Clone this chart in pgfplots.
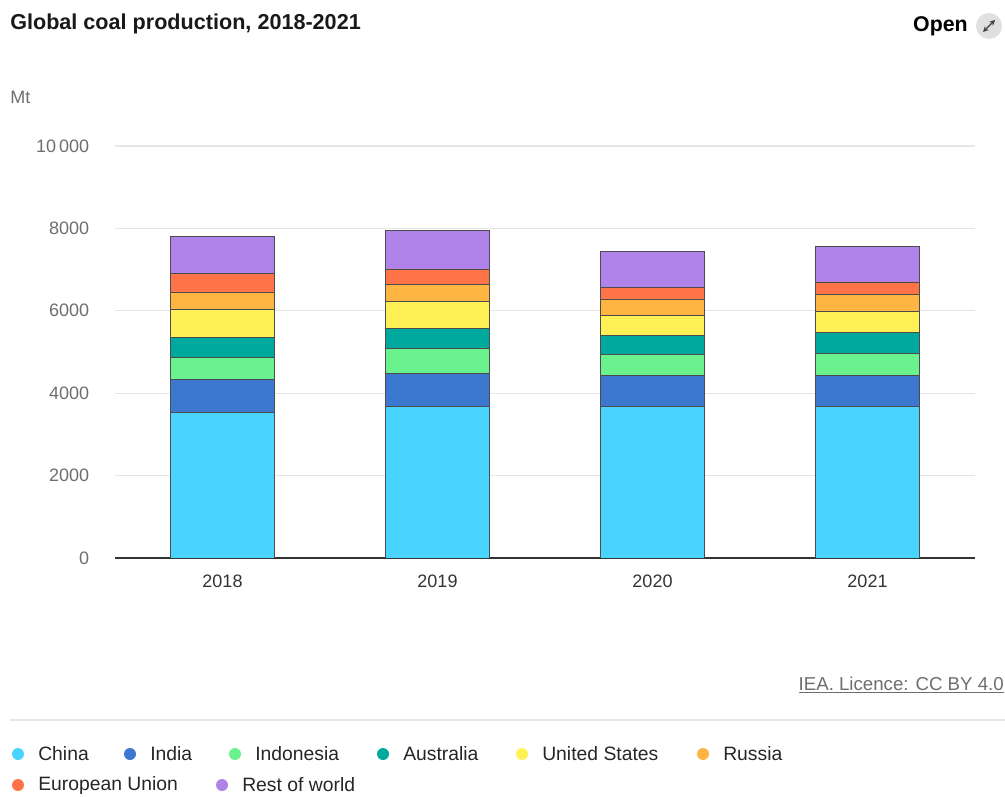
\documentclass[border=0pt]{standalone}
\usepackage{pgfplots}
\pgfplotsset{compat=1.18}
\usepackage{fontspec}
\setmainfont{Liberation Sans}
\definecolor{cChina}{HTML}{49D3FF}
\definecolor{cIndia}{HTML}{3C78D0}
\definecolor{cIndonesia}{HTML}{6AF28E}
\definecolor{cAustralia}{HTML}{00A99D}
\definecolor{cUS}{HTML}{FFF155}
\definecolor{cRussia}{HTML}{FFB541}
\definecolor{cEU}{HTML}{FF7348}
\definecolor{cRoW}{HTML}{B083EB}
\definecolor{tickgray}{HTML}{6E6E6E}
\definecolor{gridgray}{HTML}{E6E6E6}
\begin{document}
\begin{tikzpicture}
\path[use as bounding box] (0,0) rectangle (753.75pt,597pt);
\begin{axis}[
  at={(86.25pt,178.5pt)}, anchor=south west,
  scale only axis, width=645pt, height=309pt,
  ybar stacked, bar width=0.484,
  xmin=-0.5, xmax=3.5, ymin=0, ymax=10000,
  xtick={0,1,2,3}, xticklabels={2018,2019,2020,2021},
  ytick={0,2000,4000,6000,8000,10000},
  yticklabels={0,2000,4000,6000,8000,10\,000},
  scaled y ticks=false,
  /pgf/number format/assume math mode=true,
  axis lines=left, axis line style={-},
  y axis line style={draw=none},
  x axis line style={draw=black!80, line width=0.9pt},
  ymajorgrids, grid style={gridgray, line width=0.9pt},
  ytick style={draw=none},
  major x tick style={draw=none},
  extra x ticks={0.5,1.5,2.5,3.5},
  extra x tick labels={},
  extra x tick style={grid=none, major tick length=9pt, tick align=outside,
     tick style={draw=black!80, line width=0.9pt}},
  yticklabel style={anchor=east, inner sep=0pt, xshift=-17pt, text=tickgray, font=\fontsize{13.5}{15}\selectfont},
  xticklabel style={anchor=north, inner sep=0pt, yshift=-10pt, text=black!80, font=\fontsize{13.5}{15}\selectfont},
  every axis plot/.append style={draw=black!70, line width=0.6pt},
]
\addplot[fill=cChina] coordinates {(0,3535) (1,3680) (2,3680) (3,3680)};
\addplot[fill=cIndia] coordinates {(0,799) (1,792) (2,751) (3,751)};
\addplot[fill=cIndonesia] coordinates {(0,533) (1,613) (2,518) (3,542)};
\addplot[fill=cAustralia] coordinates {(0,494) (1,484) (2,451) (3,492)};
\addplot[fill=cUS] coordinates {(0,668) (1,654) (2,484) (3,516)};
\addplot[fill=cRussia] coordinates {(0,429) (1,411) (2,404) (3,411)};
\addplot[fill=cEU] coordinates {(0,443) (1,381) (2,283) (3,308)};
\addplot[fill=cRoW] coordinates {(0,905) (1,937) (2,862) (3,871)};
\end{axis}
\begin{scope}[x=0.75pt,y=-0.75pt,shift={(0pt,597pt)}]
% title and header
\node[anchor=west, inner sep=0pt, text=black!90] at (10,24) {\fontsize{16.2}{18}\selectfont\bfseries Global coal production, 2018-2021};
\node[anchor=east, inner sep=0pt, text=black] at (968,26) {\fontsize{16}{18}\selectfont\bfseries Open};
\fill[black!12] (989,26) circle (13);
\draw[black!75, line width=0.9pt, <->, >=stealth] (983,32) -- (995,20);
\node[anchor=west, inner sep=0pt, text=tickgray] at (10,97) {\fontsize{13.5}{15}\selectfont Mt};
% source and separator
\node[anchor=east, inner sep=0pt, text=tickgray] at (1004,685) {\fontsize{14}{16}\selectfont\underline{IEA. Licence: CC BY 4.0}};
\draw[gridgray, line width=1.2pt] (10,720) -- (1005,720);
% legend
\foreach \c/\xx/\yy/\name in {cChina/18/754/China, cIndia/130/754/India, cIndonesia/235/754/Indonesia, cAustralia/383/754/Australia, cUS/522/754/United States, cRussia/703/754/Russia, cEU/18/785/European Union, cRoW/222/785/Rest of world}{
  \fill[\c] (\xx,\yy) circle (6);
  \node[anchor=west, inner sep=0pt, text=black!85] at (\xx+20,\yy) {\fontsize{14.5}{16}\selectfont \name};
}
\end{scope}
\end{tikzpicture}
\end{document}
